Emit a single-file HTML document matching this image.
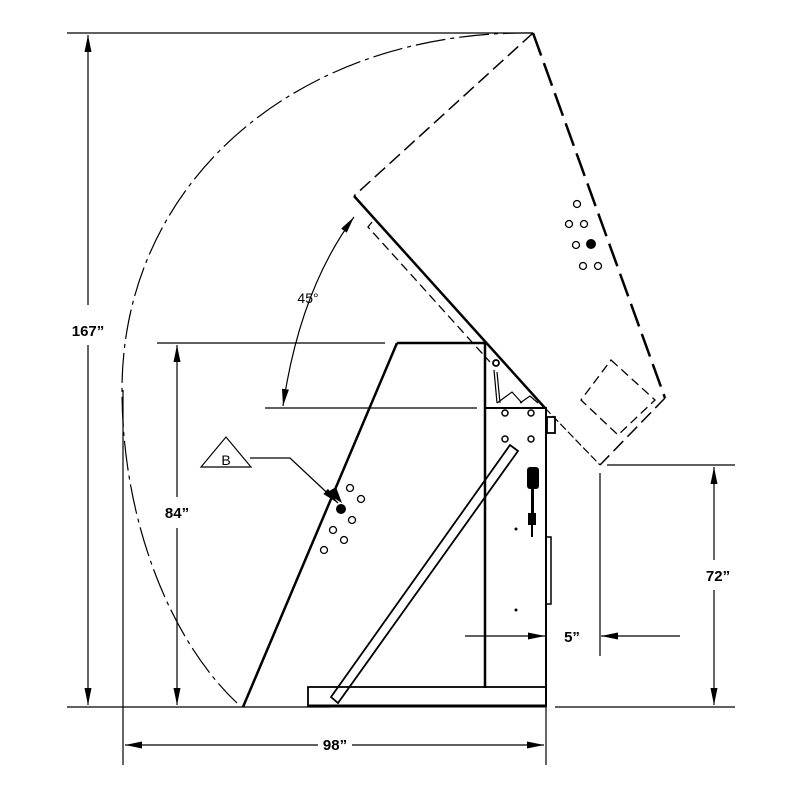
<!DOCTYPE html>
<html><head><meta charset="utf-8"><style>html,body{margin:0;padding:0;background:#fff}svg{display:block}</style></head>
<body>
<svg width="800" height="800" viewBox="0 0 800 800" xmlns="http://www.w3.org/2000/svg" font-family="Liberation Sans, sans-serif">
<defs>
<marker id="a" viewBox="0 0 10 10" refX="10" refY="5" markerWidth="17" markerHeight="7" markerUnits="userSpaceOnUse" preserveAspectRatio="none" orient="auto-start-reverse"><path d="M0,0L10,5L0,10z" fill="#000"/></marker>
</defs>
<g fill="none" stroke="#000">
<line x1="67" y1="33" x2="533" y2="33" stroke-width="1.2"/>
<line x1="67" y1="707" x2="330" y2="707" stroke-width="1.2"/>
<line x1="555" y1="707" x2="735" y2="707" stroke-width="1.2"/>
<line x1="88" y1="35" x2="88" y2="305" stroke-width="1.2" marker-start="url(#a)"/>
<line x1="88" y1="345" x2="88" y2="705" stroke-width="1.2" marker-end="url(#a)"/>
<line x1="157" y1="343" x2="385" y2="343" stroke-width="1.2"/>
<line x1="177" y1="345" x2="177" y2="497" stroke-width="1.2" marker-start="url(#a)"/>
<line x1="177" y1="528" x2="177" y2="705" stroke-width="1.2" marker-end="url(#a)"/>
<path d="M533,33 C300,30 122,180 122,390 C122,520 170,640 237,703" stroke-width="1.2" stroke-dasharray="30,5,4,5"/>
<path d="M397,343L485,343L485,688" stroke-width="2.5"/>
<line x1="243" y1="707" x2="397" y2="343" stroke-width="2.5"/>
<line x1="265" y1="408" x2="477" y2="408" stroke-width="1.2"/>
<path d="M485,408L546,408L546,707" stroke-width="2"/>
<rect x="308" y="687" width="238" height="19" stroke-width="1.8"/>
<line x1="308" y1="706" x2="546" y2="706" stroke-width="3"/>
<polygon points="331,697 338,703 518,451 510,445" stroke-width="1.8"/>
<rect x="547" y="417" width="8" height="16" stroke-width="1.8"/>
<rect x="546" y="537" width="5" height="67" stroke-width="1.5"/>
<path d="M497,372L500,403M494,370L497,403M497,403L512,392L522,403M520,403L530,396L538,403" stroke-width="1.2"/>
<circle cx="496" cy="363" r="3" stroke-width="1.8"/>
<circle cx="505" cy="413" r="3" stroke-width="1.5"/><circle cx="531" cy="413" r="3" stroke-width="1.5"/>
<circle cx="505" cy="439" r="3" stroke-width="1.5"/><circle cx="531" cy="439" r="3" stroke-width="1.5"/>
<line x1="533" y1="33" x2="354" y2="196" stroke-width="1.5" stroke-dasharray="14,6"/>
<line x1="354" y1="196" x2="545" y2="408" stroke-width="2.5"/>
<line x1="545" y1="408" x2="600" y2="465" stroke-width="1.2" stroke-dasharray="8,3"/>
<line x1="533" y1="33" x2="665" y2="398" stroke-width="2.5" stroke-dasharray="24,8"/>
<line x1="665" y1="398" x2="600" y2="465" stroke-width="1.5" stroke-dasharray="14,6"/>
<path d="M372,222L368,227L490,362" stroke-width="1.3" stroke-dasharray="9,5"/>
<path d="M611,360L655,400L618,435L581,400Z" stroke-width="1.3" stroke-dasharray="9,5"/>
<path d="M354,217 Q300,290 283,406" stroke-width="1.2" marker-start="url(#a)" marker-end="url(#a)"/>
<polygon points="201,467 251,467 226,437" stroke-width="1.2"/>
<path d="M250,458L290,458L338,503" stroke-width="1.2" marker-end="url(#a)"/>
<g stroke-width="1.3">
<circle cx="350" cy="488" r="3.5"/><circle cx="361" cy="499" r="3.5"/><circle cx="352" cy="520" r="3.5"/>
<circle cx="333" cy="530" r="3.5"/><circle cx="344" cy="540" r="3.5"/><circle cx="324" cy="550" r="3.5"/>
<circle cx="577" cy="204" r="3.5"/><circle cx="569" cy="224" r="3.5"/><circle cx="584" cy="224" r="3.5"/>
<circle cx="576" cy="245" r="3.5"/><circle cx="583" cy="266" r="3.5"/><circle cx="598" cy="266" r="3.5"/>
</g>
<line x1="123" y1="390" x2="123" y2="765" stroke-width="1.2"/>
<line x1="546" y1="707" x2="546" y2="765" stroke-width="1.2"/>
<line x1="125" y1="745" x2="318" y2="745" stroke-width="1.2" marker-start="url(#a)"/>
<line x1="352" y1="745" x2="544" y2="745" stroke-width="1.2" marker-end="url(#a)"/>
<line x1="607" y1="465" x2="735" y2="465" stroke-width="1.2"/>
<line x1="714" y1="467" x2="714" y2="560" stroke-width="1.2" marker-start="url(#a)"/>
<line x1="714" y1="590" x2="714" y2="705" stroke-width="1.2" marker-end="url(#a)"/>
<line x1="600" y1="473" x2="600" y2="656" stroke-width="1.2"/>
<line x1="465" y1="636" x2="545" y2="636" stroke-width="1.2" marker-end="url(#a)"/>
<line x1="680" y1="636" x2="601" y2="636" stroke-width="1.2" marker-end="url(#a)"/>
</g>
<g fill="#000">
<circle cx="341" cy="509" r="5"/><circle cx="591" cy="244" r="5"/>
<polygon points="326,493 336,487 342,503"/>
<rect x="527" y="467" width="12" height="22" rx="3"/>
<rect x="531" y="489" width="3" height="24"/>
<rect x="528" y="513" width="8" height="12"/>
<rect x="531" y="525" width="2" height="12"/>
<circle cx="516" cy="529" r="1.5"/><circle cx="516" cy="610" r="1.5"/>
</g>
<g font-weight="bold" font-size="15" text-anchor="middle">
<text x="88" y="336">167”</text>
<text x="177" y="518">84”</text>
<text x="335" y="750">98”</text>
<text x="718" y="581">72”</text>
<text x="572" y="642">5”</text>
</g>
<text x="308" y="303" font-size="14" text-anchor="middle">45°</text>
<text x="226" y="465" font-size="14" text-anchor="middle">B</text>
</svg>
</body></html>
